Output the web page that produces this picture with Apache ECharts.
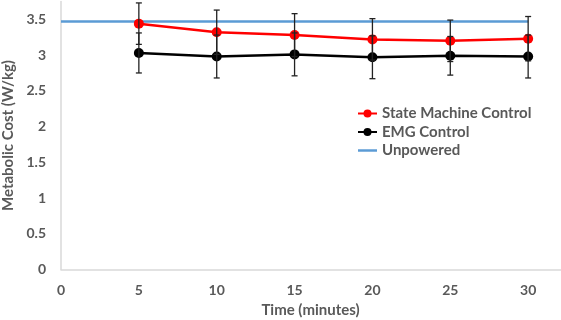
<!DOCTYPE html>
<html>
<head>
<meta charset="utf-8">
<script src="https://cdn.jsdelivr.net/npm/echarts@6/dist/echarts.min.js"></script>
<style>
  html, body { margin: 0; padding: 0; background: #fff; }
  #chart { width: 561px; height: 320px; }
</style>
</head>
<body>
<div id="chart"></div>
<script>
// values
const minutes = [5, 10, 15, 20, 25, 30];
const stateMachine = [3.44, 3.32, 3.28, 3.22, 3.2, 3.23];
const stateMachineErr = [0.29, 0.31, 0.3, 0.29, 0.29, 0.31];
const emg = [3.03, 2.98, 3.01, 2.97, 2.99, 2.98];
const emgErr = [0.28, 0.3, 0.3, 0.3, 0.27, 0.3];
const unpoweredX = [0, 30];
const unpowered = [3.47, 3.47];

const textColor = '#595959';
const axisColor = '#d9d9d9';
const fontFamily = 'Lato, "Open Sans", sans-serif';

const toPairs = (xs, ys) => xs.map((x, i) => [x, ys[i]]);
const toErr = (xs, ys, es) => xs.map((x, i) => [x, ys[i] - es[i], ys[i] + es[i]]);

const errorBars = (params, api) => {
  const x = api.value(0);
  const lo = api.coord([x, api.value(1)]);
  const hi = api.coord([x, api.value(2)]);
  const cap = 3;
  const style = { stroke: '#222', lineWidth: 1.3 };
  return {
    type: 'group',
    children: [
      { type: 'line', shape: { x1: hi[0], y1: hi[1], x2: lo[0], y2: lo[1] }, style },
      { type: 'line', shape: { x1: hi[0] - cap, y1: hi[1], x2: hi[0] + cap, y2: hi[1] }, style },
      { type: 'line', shape: { x1: lo[0] - cap, y1: lo[1], x2: lo[0] + cap, y2: lo[1] }, style },
    ],
  };
};

const chart = echarts.init(document.getElementById('chart'));

chart.setOption({
  animation: false,
  textStyle: { fontFamily },
  grid: {
    left: 61,
    right: -45,
    top: 1.5,
    bottom: 50.5,
    outerBoundsMode: 'none',
  },
  legend: {
    orient: 'vertical',
    left: 357,
    top: 106,
    padding: 0,
    itemGap: 3.5,
    itemWidth: 19,
    itemHeight: 10,
    data: [
      'State Machine Control',
      'EMG Control',
      { name: 'Unpowered', icon: 'path://M0,0 H20 V2.6 H0 Z' },
    ],
    textStyle: { color: textColor, fontSize: 15, fontWeight: 'bold', fontFamily },
  },
  xAxis: {
    type: 'value',
    min: 0,
    max: 35,
    interval: 5,
    name: 'Time (minutes)',
    nameLocation: 'middle',
    nameGap: 28,
    nameTextStyle: { color: textColor, fontSize: 15, fontWeight: 'bold', padding: [0, 46, 0, 0] },
    axisLine: { show: true, onZero: false, lineStyle: { color: axisColor, width: 1.5 } },
    axisTick: { show: false },
    splitLine: { show: false },
    axisLabel: { color: textColor, fontSize: 14, fontWeight: 'bold', margin: 14 },
  },
  yAxis: {
    type: 'value',
    min: 0,
    max: 3.75,
    interval: 0.5,
    name: 'Metabolic Cost (W/kg)',
    nameLocation: 'middle',
    nameGap: 44,
    nameTextStyle: { color: textColor, fontSize: 15, fontWeight: 'bold' },
    axisLine: { show: true, lineStyle: { color: axisColor, width: 1.5 } },
    axisTick: { show: false },
    splitLine: { show: false },
    axisLabel: { color: textColor, fontSize: 14, fontWeight: 'bold', margin: 15, showMaxLabel: false },
  },
  series: [
    {
      name: 'Unpowered',
      type: 'line',
      data: toPairs(unpoweredX, unpowered),
      symbol: 'none',
      lineStyle: { color: '#5b9bd5', width: 2.5 },
      itemStyle: { color: '#5b9bd5' },
      z: 1,
    },
    {
      name: 'State Machine Control',
      type: 'line',
      data: toPairs(minutes, stateMachine),
      symbol: 'circle',
      symbolSize: 10,
      lineStyle: { color: '#ff0000', width: 2.5 },
      itemStyle: { color: '#ff0000' },
      z: 3,
    },
    {
      name: 'EMG Control',
      type: 'line',
      data: toPairs(minutes, emg),
      symbol: 'circle',
      symbolSize: 10,
      lineStyle: { color: '#000000', width: 2.5 },
      itemStyle: { color: '#000000' },
      z: 3,
    },
    {
      name: 'smErr',
      type: 'custom',
      renderItem: errorBars,
      data: toErr(minutes, stateMachine, stateMachineErr),
      clip: false,
      z: 4,
    },
    {
      name: 'emgErr',
      type: 'custom',
      renderItem: errorBars,
      data: toErr(minutes, emg, emgErr),
      clip: false,
      z: 4,
    },
  ],
});
</script>
</body>
</html>
